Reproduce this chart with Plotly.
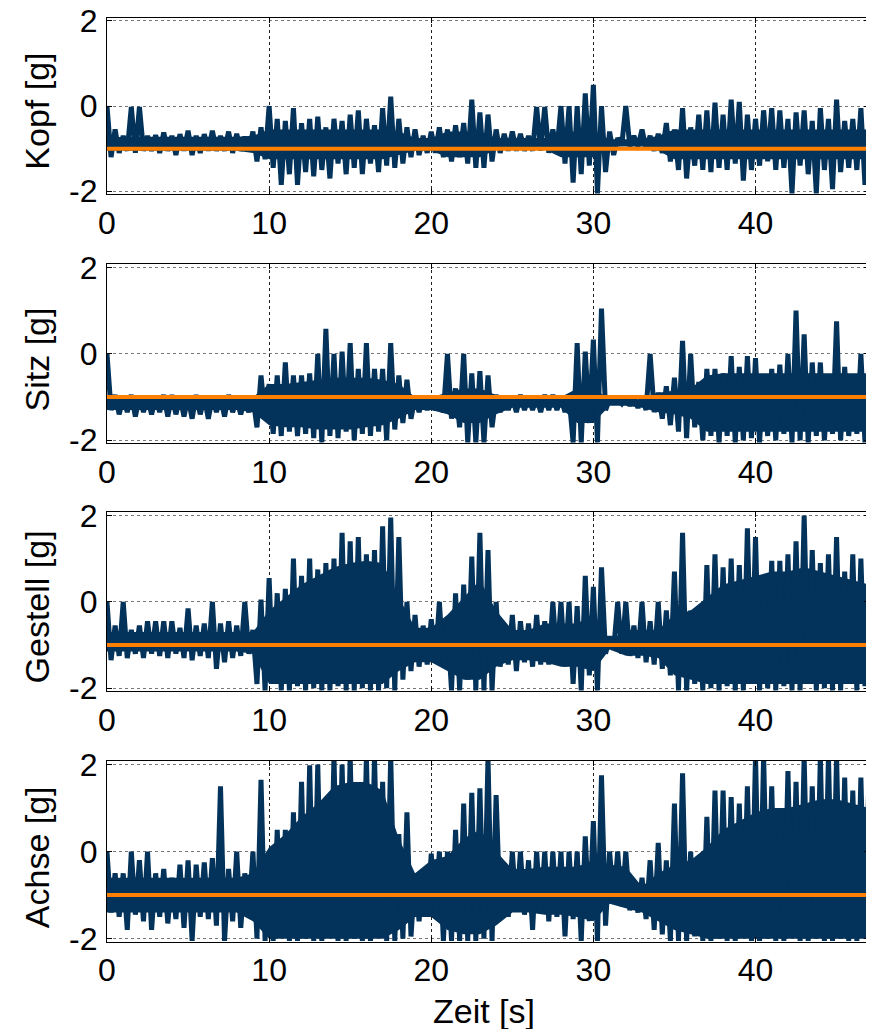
import plotly.graph_objects as go

# ---------------- data ----------------
# hand-read extremes: peaks at t = 0, 0.5, ... 47.0, troughs at t = 0.25, ... 46.75
sample_step = 0.25
# dense core of each trace, read at t = 0, 1, ... 47 s
core_step = 1.0

labels = ["Kopf [g]", "Sitz [g]", "Gestell [g]", "Achse [g]"]

kopf_hi = [0.0, -0.55, -0.7, -0.02, -0.02, -0.7, -0.68, -0.62, -0.7, -0.66,
           -0.58, -0.7, -0.66, -0.58, -0.7, -0.6, -0.65, -0.72, -0.6, -0.5,
           0.0, -0.3, -0.35, -0.05, -0.4, -0.3, -0.25, -0.5, -0.3, -0.35,
           -0.2, -0.1, -0.3, -0.45, -0.05, 0.22, -0.3, -0.5, -0.55, -0.7,
           -0.6, -0.5, -0.55, -0.45, -0.4, 0.15, -0.15, -0.2, -0.55, -0.65,
           -0.6, -0.65, -0.7, -0.02, -0.02, -0.55, 0.0, 0.0, 0.0, 0.3,
           0.5, 0.0, -0.6, -0.75, 0.0, -0.7, -0.55, -0.7, -0.65, -0.4,
           -0.55, -0.05, -0.5, -0.2, -0.1, 0.08, -0.2, 0.15, 0.1, -0.2,
           -0.3, -0.1, -0.05, -0.1, -0.3, -0.15, -0.1, -0.35, -0.05, -0.3,
           0.15, -0.35, -0.3, -0.05, -0.3]
kopf_lo = [-1.2, -1.1, -1.05, -1.1, -1.05, -1.05, -1.1, -1.05, -1.15, -1.05,
           -1.15, -1.1, -1.05, -1.05, -1.05, -1.1, -1.05, -1.05, -1.3, -1.25,
           -1.45, -1.85, -1.6, -1.85, -1.55, -1.65, -1.5, -1.7, -1.35, -1.6,
           -1.45, -1.6, -1.35, -1.55, -1.4, -1.45, -1.35, -1.2, -1.15, -1.1,
           -1.1, -1.2, -1.3, -1.2, -1.35, -1.45, -1.45, -1.3, -1.1, -1.05,
           -1.05, -1.05, -1.05, -1.05, -1.1, -1.05, -1.35, -1.8, -1.6, -1.4,
           -2.05, -1.55, -1.15, -0.92, -0.95, -0.95, -1.0, -1.05, -1.1, -1.3,
           -1.5, -1.7, -1.4, -1.5, -1.55, -1.45, -1.5, -1.35, -1.75, -1.5,
           -1.4, -1.3, -1.5, -1.45, -2.05, -1.4, -1.6, -2.05, -1.5, -1.95,
           -1.55, -1.45, -1.5, -1.85]
kopf_core_top = [-0.75, -0.72, -0.72, -0.72, -0.72, -0.72, -0.72, -0.72, -0.72, -0.7,
                 -0.55, -0.55, -0.55, -0.55, -0.55, -0.55, -0.55, -0.55, -0.6, -0.75,
                 -0.75, -0.6, -0.6, -0.6, -0.75, -0.75, -0.75, -0.75, -0.6, -0.6,
                 -0.6, -0.78, -0.78, -0.78, -0.7, -0.55, -0.55, -0.55, -0.55, -0.55,
                 -0.55, -0.55, -0.55, -0.55, -0.55, -0.55, -0.55, -0.55]
kopf_core_bot = [-1.05, -1.05, -1.05, -1.05, -1.05, -1.05, -1.05, -1.05, -1.05, -1.1,
                 -1.25, -1.25, -1.25, -1.25, -1.25, -1.25, -1.25, -1.25, -1.15, -1.05,
                 -1.05, -1.2, -1.2, -1.2, -1.02, -1.02, -1.02, -1.02, -1.2, -1.2,
                 -1.2, -0.95, -0.95, -0.95, -1.05, -1.25, -1.25, -1.25, -1.25, -1.25,
                 -1.25, -1.25, -1.25, -1.25, -1.25, -1.25, -1.25, -1.25]

sitz_hi = [0.0, -0.95, -1.0, -0.95, -1.0, -1.0, -1.0, -0.95, -0.95, -1.0,
           -1.0, -0.95, -1.0, -1.0, -1.0, -0.95, -1.05, -1.05, -1.0, -0.5,
           -0.7, -0.5, -0.2, -0.5, -0.5, -0.45, 0.0, 0.58, 0.0, 0.05,
           0.25, -0.35, 0.25, -0.35, -0.35, 0.25, -0.5, -0.6, -1.0, -1.0,
           -1.0, -1.05, 0.0, -0.8, 0.0, -0.45, -0.4, -0.5, -0.95, -1.0,
           -1.0, -0.95, -1.0, -1.0, -0.95, -0.95, -1.0, -1.0, 0.25, 0.05,
           0.33, 1.05, -1.05, -1.05, -1.0, -1.0, -1.0, 0.0, -0.9, -0.75,
           -0.55, 0.3, 0.0, -0.65, -0.35, -0.35, -0.45, -0.05, -0.3, -0.05,
           -0.1, -0.5, -0.35, -0.25, 0.0, 1.0, 0.45, -0.2, -0.2, -0.55,
           0.75, -0.3, -0.5, 0.0, -0.45]
sitz_lo = [-1.3, -1.4, -1.35, -1.45, -1.35, -1.4, -1.35, -1.45, -1.4, -1.45,
           -1.5, -1.4, -1.5, -1.35, -1.45, -1.35, -1.4, -1.35, -1.7, -1.5,
           -1.85, -1.9, -1.8, -1.9, -1.85, -1.95, -2.05, -1.9, -1.95, -1.8,
           -2.0, -1.85, -1.9, -1.8, -2.0, -1.75, -1.6, -1.5, -1.35, -1.3,
           -1.3, -1.35, -1.5, -1.7, -2.05, -2.05, -2.05, -1.7, -1.35, -1.3,
           -1.35, -1.3, -1.3, -1.35, -1.3, -1.3, -1.35, -2.05, -2.05, -1.6,
           -2.05, -1.3, -1.1, -1.15, -1.2, -1.25, -1.3, -1.35, -1.5, -1.65,
           -1.8, -1.95, -1.7, -2.0, -1.9, -2.05, -1.9, -2.05, -2.0, -1.95,
           -2.05, -1.9, -2.0, -1.85, -2.05, -2.0, -2.05, -1.9, -2.0, -1.85,
           -2.0, -1.9, -1.85, -2.05]
sitz_core_top = [-1.0, -1.0, -1.0, -1.0, -1.0, -1.0, -1.0, -1.0, -1.0, -1.0,
                 -0.7, -0.7, -0.65, -0.6, -0.55, -0.55, -0.55, -0.6, -0.7, -1.0,
                 -1.0, -0.9, -0.8, -0.8, -0.95, -1.0, -1.0, -1.0, -1.0, -0.8,
                 -0.8, -1.05, -1.05, -1.05, -0.9, -0.85, -0.8, -0.5, -0.45, -0.45,
                 -0.45, -0.45, -0.45, -0.45, -0.45, -0.45, -0.45, -0.45]
sitz_core_bot = [-1.3, -1.3, -1.3, -1.3, -1.3, -1.3, -1.3, -1.3, -1.3, -1.35,
                 -1.65, -1.7, -1.7, -1.75, -1.75, -1.75, -1.7, -1.65, -1.5, -1.3,
                 -1.3, -1.4, -1.6, -1.6, -1.4, -1.25, -1.25, -1.25, -1.25, -1.6,
                 -1.6, -1.2, -1.2, -1.25, -1.35, -1.4, -1.5, -1.8, -1.8, -1.8,
                 -1.8, -1.8, -1.8, -1.8, -1.8, -1.8, -1.8, -1.8]

gestell_hi = [0.0, -0.55, 0.0, -0.65, -0.55, -0.45, -0.45, -0.45, -0.45, -0.6,
              -0.15, -0.55, -0.5, 0.0, -0.5, -0.45, -0.55, 0.0, -0.65, 0.05,
              0.55, 0.2, 0.3, 1.0, 0.6, 1.0, 0.75, 0.9, 1.0, 1.6,
              1.4, 1.5, 1.1, 1.2, 1.75, 1.95, 1.5, 0.0, -0.3, -0.55,
              -0.4, 0.0, -0.5, 0.2, 0.4, 1.05, 1.6, 1.2, 0.0, -0.55,
              -0.3, -0.45, -0.5, -0.3, -0.45, 0.0, 0.0, 0.0, -0.1, 0.6,
              0.35, 0.8, -0.8, 0.0, 0.0, -0.55, 0.0, -0.45, 0.0, -0.2,
              0.7, 1.6, -0.2, -0.25, 0.85, 1.1, 0.8, 1.0, 0.85, 1.7,
              1.5, 0.3, 0.95, 0.95, 1.1, 1.4, 2.0, 1.2, 0.9, 1.1,
              1.5, 0.7, 1.1, 1.0, 0.3]
gestell_lo = [-1.35, -1.25, -1.3, -1.2, -1.3, -1.2, -1.25, -1.3, -1.2, -1.3,
              -1.35, -1.25, -1.3, -1.55, -1.4, -1.3, -1.25, -1.2, -1.9, -2.05,
              -1.9, -2.05, -2.05, -1.95, -2.05, -2.0, -2.05, -2.05, -1.95, -2.05,
              -2.05, -2.0, -2.05, -2.05, -2.0, -2.05, -1.8, -1.6, -1.5, -1.45,
              -1.4, -1.5, -2.05, -2.05, -1.8, -2.05, -2.05, -2.05, -1.5, -1.45,
              -1.6, -1.4, -1.5, -1.45, -1.45, -1.35, -1.5, -1.9, -2.05, -1.7,
              -2.05, -1.2, -1.1, -1.2, -1.25, -1.3, -1.4, -1.45, -1.55, -1.7,
              -2.05, -2.05, -1.9, -2.05, -2.0, -2.05, -1.95, -2.05, -2.05, -1.9,
              -2.05, -2.0, -2.05, -1.95, -2.05, -2.05, -1.9, -2.05, -2.0, -2.05,
              -2.05, -1.9, -2.05, -1.95]
gestell_core_top = [-0.7, -0.7, -0.7, -0.7, -0.7, -0.7, -0.7, -0.7, -0.7, -0.7,
                    -0.2, 0.1, 0.4, 0.6, 0.8, 0.9, 0.95, 0.9, 0.1, -0.6,
                    -0.6, -0.3, 0.1, 0.5, -0.2, -0.65, -0.65, -0.5, -0.5, -0.5,
                    -0.3, -0.9, -0.65, -0.65, -0.65, -0.3, -0.2, 0.1, 0.4, 0.5,
                    0.6, 0.7, 0.7, 0.8, 0.7, 0.6, 0.5, 0.4]
gestell_core_bot = [-1.15, -1.15, -1.15, -1.15, -1.15, -1.15, -1.15, -1.15, -1.15, -1.2,
                    -1.9, -1.9, -1.9, -1.9, -1.9, -1.9, -1.9, -1.9, -1.6, -1.4,
                    -1.4, -1.6, -1.8, -1.8, -1.5, -1.35, -1.35, -1.4, -1.5, -1.5,
                    -1.6, -1.1, -1.25, -1.25, -1.3, -1.7, -1.8, -1.9, -1.9, -1.9,
                    -1.9, -1.9, -1.9, -1.9, -1.9, -1.9, -1.9, -1.9]

achse_hi = [0.0, -0.5, -0.5, 0.0, -0.2, 0.0, -0.5, -0.4, -0.6, -0.3,
            -0.2, -0.3, -0.25, -0.15, 1.5, -0.4, 0.0, -0.5, 0.0, 1.65,
            0.0, 0.5, 0.5, 0.9, 1.6, 1.98, 2.0, 1.2, 2.2, 2.0,
            2.2, 1.3, 2.2, 2.2, 1.6, 2.2, 0.4, 0.9, -0.5, -0.5,
            -0.05, 0.0, 0.0, 0.5, 1.1, 1.35, 1.45, 2.15, 1.3, -0.5,
            0.0, 0.0, -0.2, 0.0, 0.0, 0.0, 0.0, 0.0, 0.0, 0.35,
            0.7, 1.75, 0.0, 0.0, 0.0, -0.75, -0.6, -0.2, 0.2, -0.2,
            1.1, 1.8, 0.0, -0.2, 0.8, 1.4, 1.4, 1.25, 1.1, 1.5,
            2.2, 2.2, 1.5, 1.0, 1.85, 1.6, 2.2, 1.5, 2.2, 2.2,
            2.2, 1.7, 1.4, 1.7, 1.8]
achse_lo = [-1.4, -1.5, -1.8, -1.45, -1.6, -1.8, -1.5, -1.65, -1.55, -1.75,
            -2.05, -1.5, -1.55, -1.7, -2.05, -1.6, -1.75, -1.5, -2.0, -2.05,
            -2.05, -1.95, -2.05, -2.05, -2.0, -2.05, -2.05, -1.95, -2.05, -2.05,
            -2.0, -2.05, -2.05, -1.95, -2.05, -2.05, -2.0, -1.95, -1.6, -1.5,
            -1.4, -2.05, -2.05, -2.05, -2.05, -2.05, -2.0, -2.05, -1.45, -1.5,
            -1.35, -1.45, -1.8, -1.4, -1.6, -1.5, -1.95, -1.55, -2.05, -1.6,
            -2.05, -1.7, -1.15, -1.25, -1.35, -1.4, -1.55, -1.8, -1.9, -2.05,
            -2.05, -2.05, -1.95, -2.05, -2.05, -2.0, -2.05, -2.05, -1.95, -2.05,
            -2.05, -2.0, -2.05, -2.05, -1.95, -2.05, -2.05, -2.0, -2.05, -2.05,
            -2.0, -2.05, -2.05, -1.95]
achse_core_top = [-0.6, -0.6, -0.6, -0.6, -0.6, -0.6, -0.6, -0.6, -0.6, -0.5,
                  0.1, 0.4, 0.8, 1.1, 1.5, 1.6, 1.6, 1.4, 0.3, -0.5,
                  -0.2, -0.1, 0.3, 0.5, 0.0, -0.4, -0.4, -0.35, -0.35, -0.35,
                  -0.2, -0.3, -0.35, -0.8, -0.5, -0.3, -0.2, 0.1, 0.5, 0.7,
                  0.9, 1.0, 1.0, 1.1, 1.2, 1.2, 1.1, 1.0]
achse_core_bot = [-1.4, -1.4, -1.4, -1.4, -1.4, -1.4, -1.4, -1.4, -1.4, -1.6,
                  -2.0, -2.0, -2.0, -2.0, -2.0, -2.0, -2.0, -2.0, -1.8, -1.5,
                  -1.5, -1.8, -1.9, -1.9, -1.7, -1.4, -1.4, -1.45, -1.45, -1.5,
                  -1.6, -1.2, -1.3, -1.4, -1.6, -1.8, -1.9, -2.0, -2.0, -2.0,
                  -2.0, -2.0, -2.0, -2.0, -2.0, -2.0, -2.0, -2.0]

reference_level = [-1.0, -1.0]
reference_time = [0.0, 47.0]

x_ticks = [0, 10, 20, 30, 40]
y_ticks = [-2, 0, 2]
y_ticktext = ["-2", "0", "2"]

# ---------------- layout constants ----------------
# the page body has an 8px margin, so the figure is placed 8px in from the window edge
OFF = 8
W, H = 874 - OFF, 1029 - OFF
ML, MR = 106.7 - OFF, 5
panel_px = [(17.5, 194.2), (264.0, 443.3), (512.0, 691.3), (761.0, 941.7)]
NAVY = "#03335A"
ORANGE = "#FF8000"
FONT = "Liberation Sans, Arial, Helvetica, sans-serif"

series = [(kopf_hi, kopf_lo, kopf_core_top, kopf_core_bot),
          (sitz_hi, sitz_lo, sitz_core_top, sitz_core_bot),
          (gestell_hi, gestell_lo, gestell_core_top, gestell_core_bot),
          (achse_hi, achse_lo, achse_core_top, achse_core_bot)]

fig = go.Figure()
annotations = []
plot_w = W - ML - MR
for i, ((hi, lo, ctop, cbot), label) in enumerate(zip(series, labels)):
    ax = "" if i == 0 else str(i + 1)
    xa, ya = "x" + ax, "y" + ax
    tc = [k * core_step for k in range(len(ctop))]
    fig.add_trace(go.Scatter(x=tc, y=cbot, mode="lines", line=dict(width=0, color=NAVY),
                             xaxis=xa, yaxis=ya, showlegend=False, hoverinfo="skip"))
    fig.add_trace(go.Scatter(x=tc, y=ctop, mode="lines", line=dict(width=0, color=NAVY),
                             fill="tonexty", fillcolor=NAVY,
                             xaxis=xa, yaxis=ya, showlegend=False, hoverinfo="skip"))
    n = len(hi) + len(lo)
    t = [k * sample_step for k in range(n)]
    y = [hi[k // 2] if k % 2 == 0 else lo[k // 2] for k in range(n)]
    fig.add_trace(go.Scatter(x=t, y=y, mode="lines",
                             line=dict(color=NAVY, width=5, simplify=False),
                             xaxis=xa, yaxis=ya, showlegend=False, hoverinfo="skip"))
    fig.add_trace(go.Scatter(x=reference_time, y=reference_level, mode="lines",
                             line=dict(color=ORANGE, width=4),
                             xaxis=xa, yaxis=ya, showlegend=False, hoverinfo="skip"))
    top, bot = panel_px[i][0] - OFF, panel_px[i][1] - OFF
    dom = [(H - bot) / H, (H - top) / H]
    common = dict(showline=True, mirror="ticks", linecolor="black", linewidth=1.3,
                  ticks="inside", ticklen=5, tickcolor="black", tickwidth=1,
                  showgrid=True, griddash="dot", gridwidth=1, automargin=False,
                  ticklabeloverflow="allow",
                  zeroline=False, tickfont=dict(family=FONT, size=32, color="black"))
    fig.layout["xaxis" + ax] = dict(domain=[0, 1], anchor=ya, range=[0, 47],
                                    tickvals=x_ticks, gridcolor="#222222",
                                    ticklabelstandoff=0, **common)
    fig.layout["yaxis" + ax] = dict(domain=dom, anchor=xa, range=[-2.07, 2.08],
                                    tickvals=y_ticks, ticktext=y_ticktext,
                                    gridcolor="#777777", ticklabelstandoff=2, **common)
    annotations.append(dict(text=label, xref="paper", yref="paper",
                            x=(37 - OFF - ML) / plot_w, y=(H - (top + bot) / 2 - 5.5) / H,
                            xanchor="center", yanchor="middle", textangle=-90,
                            showarrow=False, font=dict(family=FONT, size=34, color="black")))

annotations.append(dict(text="Zeit [s]", xref="paper", yref="paper",
                        x=(484 - OFF - ML) / plot_w, y=(H - (1011 - OFF)) / H,
                        xanchor="center", yanchor="middle", showarrow=False,
                        font=dict(family=FONT, size=34, color="black")))

fig.update_layout(width=W, height=H, margin=dict(l=ML, r=MR, t=0, b=0, autoexpand=False),
                  paper_bgcolor="white", plot_bgcolor="white",
                  annotations=annotations, showlegend=False)

fig.write_html("out.html")
